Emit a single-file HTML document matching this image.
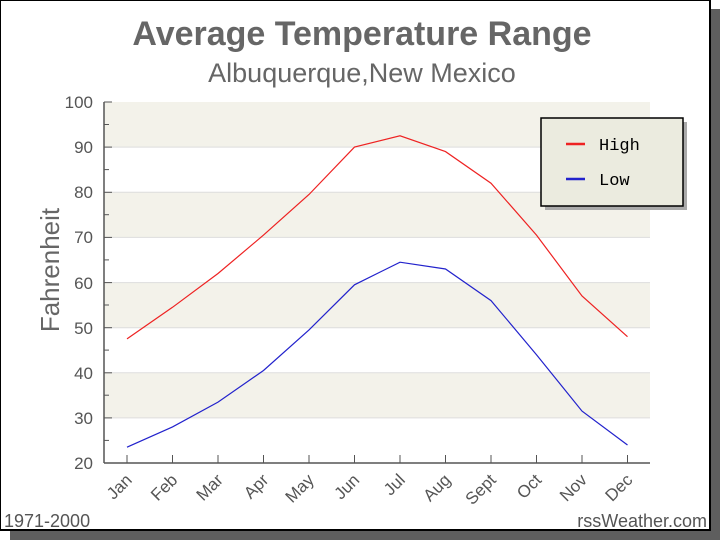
<!DOCTYPE html>
<html><head><style>body{margin:0;background:#fff}svg{display:block}</style></head><body>
<svg width="720" height="540" xmlns="http://www.w3.org/2000/svg" font-family="Liberation Sans, sans-serif">
<rect x="0" y="0" width="720" height="540" fill="#fff"/>
<rect x="10" y="9" width="710" height="531" fill="#5e5e5e"/>
<rect x="0" y="0" width="710" height="530" fill="#fff" stroke="#000" stroke-width="2"/>
<text x="362" y="45" text-anchor="middle" font-size="34" font-weight="bold" fill="#666">Average Temperature Range</text>
<text x="362" y="82" text-anchor="middle" font-size="27" fill="#666">Albuquerque,New Mexico</text>
<g>
<rect x="104" y="102" width="546" height="45.1" fill="#f3f2ea"/>
<rect x="104" y="192.3" width="546" height="45.1" fill="#f3f2ea"/>
<rect x="104" y="282.6" width="546" height="45.1" fill="#f3f2ea"/>
<rect x="104" y="372.8" width="546" height="45.1" fill="#f3f2ea"/>
<g stroke="#ddd" stroke-width="1">
<line x1="104" x2="650" y1="147.1" y2="147.1"/><line x1="104" x2="650" y1="192.3" y2="192.3"/>
<line x1="104" x2="650" y1="237.4" y2="237.4"/><line x1="104" x2="650" y1="282.6" y2="282.6"/>
<line x1="104" x2="650" y1="327.7" y2="327.7"/><line x1="104" x2="650" y1="372.8" y2="372.8"/>
<line x1="104" x2="650" y1="417.9" y2="417.9"/>
</g>
<g stroke="#555" stroke-width="1.5">
<line x1="104" y1="102" x2="104" y2="463"/><line x1="104" y1="463" x2="650" y2="463"/>
</g>
<g stroke="#555" stroke-width="1">
<line x1="104" x2="112" y1="102" y2="102"/><line x1="104" x2="112" y1="147.1" y2="147.1"/><line x1="104" x2="112" y1="192.3" y2="192.3"/><line x1="104" x2="112" y1="237.4" y2="237.4"/><line x1="104" x2="112" y1="282.6" y2="282.6"/><line x1="104" x2="112" y1="327.7" y2="327.7"/><line x1="104" x2="112" y1="372.8" y2="372.8"/><line x1="104" x2="112" y1="417.9" y2="417.9"/>
<line x1="104" x2="109" y1="124.5" y2="124.5"/><line x1="104" x2="109" y1="169.6" y2="169.6"/><line x1="104" x2="109" y1="214.7" y2="214.7"/><line x1="104" x2="109" y1="259.9" y2="259.9"/><line x1="104" x2="109" y1="305" y2="305"/><line x1="104" x2="109" y1="350.1" y2="350.1"/><line x1="104" x2="109" y1="395.2" y2="395.2"/><line x1="104" x2="109" y1="440.4" y2="440.4"/>
<line x1="127" x2="127" y1="455" y2="463"/><line x1="172.5" x2="172.5" y1="455" y2="463"/><line x1="218" x2="218" y1="455" y2="463"/><line x1="263.5" x2="263.5" y1="455" y2="463"/><line x1="309" x2="309" y1="455" y2="463"/><line x1="354.5" x2="354.5" y1="455" y2="463"/><line x1="400" x2="400" y1="455" y2="463"/><line x1="445.5" x2="445.5" y1="455" y2="463"/><line x1="491" x2="491" y1="455" y2="463"/><line x1="536.5" x2="536.5" y1="455" y2="463"/><line x1="582" x2="582" y1="455" y2="463"/><line x1="627.5" x2="627.5" y1="455" y2="463"/>
</g>
<g font-size="17" fill="#555" text-anchor="end">
<text x="93" y="108">100</text><text x="93" y="153">90</text><text x="93" y="198">80</text><text x="93" y="243">70</text><text x="93" y="289">60</text><text x="93" y="334">50</text><text x="93" y="379">40</text><text x="93" y="424">30</text><text x="93" y="469">20</text>
</g>
</g>
<text transform="translate(59,270) rotate(-90)" text-anchor="middle" font-size="26" fill="#666">Fahrenheit</text>
<g font-size="17" fill="#555" text-anchor="end">
<text transform="translate(133,481) rotate(-45)">Jan</text>
<text transform="translate(178.5,481) rotate(-45)">Feb</text>
<text transform="translate(224,481) rotate(-45)">Mar</text>
<text transform="translate(269.5,481) rotate(-45)">Apr</text>
<text transform="translate(315,481) rotate(-45)">May</text>
<text transform="translate(360.5,481) rotate(-45)">Jun</text>
<text transform="translate(406,481) rotate(-45)">Jul</text>
<text transform="translate(451.5,481) rotate(-45)">Aug</text>
<text transform="translate(497,481) rotate(-45)">Sept</text>
<text transform="translate(542.5,481) rotate(-45)">Oct</text>
<text transform="translate(588,481) rotate(-45)">Nov</text>
<text transform="translate(633.5,481) rotate(-45)">Dec</text>
</g>
<polyline fill="none" stroke="#e22" stroke-width="1.2" points="127,338.9 172.5,307.3 218,273.5 263.5,235.1 309,194.5 354.5,147.1 400,135.8 445.5,151.6 491,183.2 536.5,235.1 582,296 627.5,336.7"/>
<polyline fill="none" stroke="#22c" stroke-width="1.2" points="127,447.2 172.5,426.9 218,402.1 263.5,370.5 309,329.9 354.5,284.8 400,262.2 445.5,269 491,300.6 536.5,354.7 582,411.1 627.5,445"/>
<rect x="545" y="122" width="142" height="88" fill="#aaa"/>
<rect x="541" y="118" width="142" height="88" fill="#ebebdf" stroke="#000" stroke-width="1.5"/>
<line x1="566" x2="585" y1="144" y2="144" stroke="#e22" stroke-width="2.5"/>
<line x1="566" x2="585" y1="179" y2="179" stroke="#22c" stroke-width="2.5"/>
<g font-family="Liberation Mono, monospace" font-size="17" fill="#000">
<text x="599" y="150">High</text><text x="599" y="185">Low</text>
</g>
<text x="4" y="527" font-size="18" fill="#555">1971-2000</text>
<text x="707" y="527" font-size="18" fill="#555" text-anchor="end">rssWeather.com</text>
</svg>
</body></html>
